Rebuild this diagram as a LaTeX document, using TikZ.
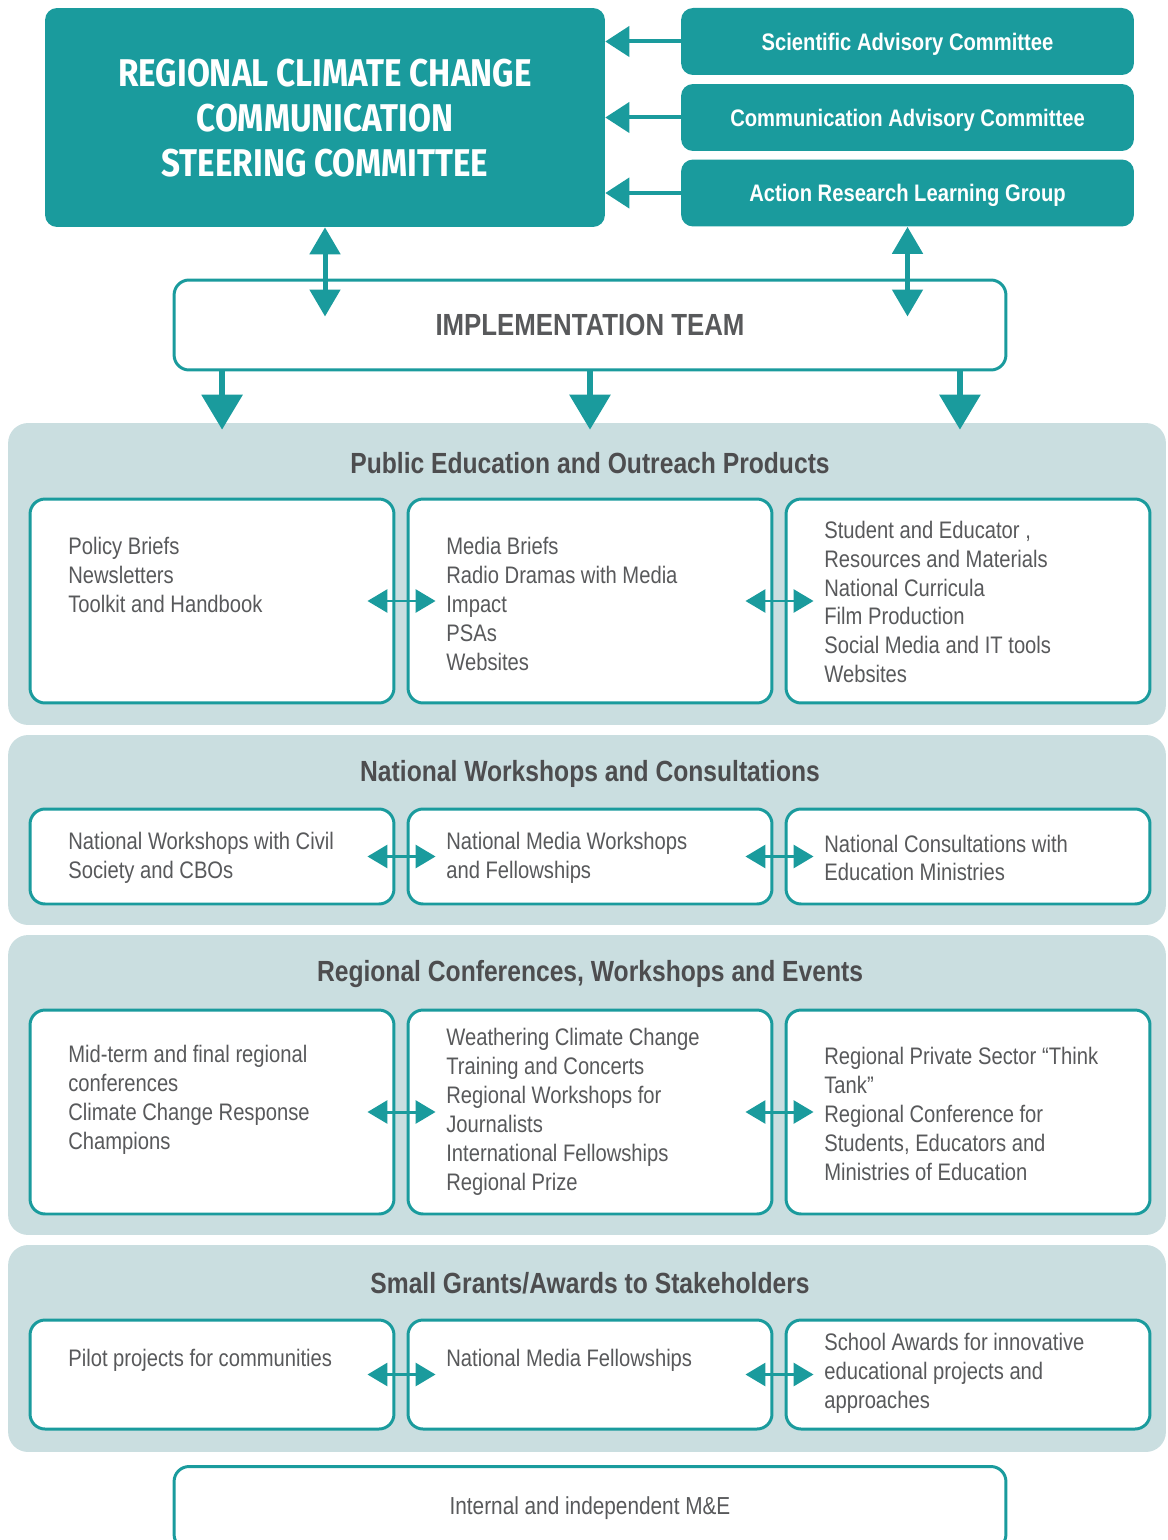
\documentclass[tikz,border=0pt]{standalone}
\usepackage{fontspec}
\setmainfont[FakeStretch=0.845]{Liberation Sans}
\newfontfamily\headfont[FakeStretch=0.86]{Fira Sans}
\usetikzlibrary{arrows.meta,positioning}
\definecolor{rcteal}{HTML}{1A9B9D}
\definecolor{rcpanel}{HTML}{CADEE0}
\definecolor{rcgray}{HTML}{58595B}
\definecolor{rcdark}{HTML}{4D4D4F}
\tikzset{topbox/.style = {fill=rcteal, rounded corners=0.24cm, text=white, align=center, text depth=0pt}}
\tikzset{panel/.style = {fill=rcpanel, rounded corners=0.4cm, minimum width=23.16cm}}
\tikzset{itembox/.style = {draw=rcteal, fill=white, line width=1.7pt, rounded corners=0.3cm, minimum width=7.28cm}}
\tikzset{item/.style = {anchor=west, inner sep=0, align=left, text=rcgray, font=\fontsize{13.6}{16.44}\selectfont}}
\tikzset{ptitle/.style = {inner sep=0, text=rcdark, font=\bfseries\fontsize{16.6}{19}\selectfont}}
\tikzset{dblh/.style = {rcteal, line width=1.7pt, {Triangle[length=0.4cm,width=0.46cm]}-{Triangle[length=0.4cm,width=0.46cm]}}}
\tikzset{dblv/.style = {rcteal, line width=0.1cm, {Triangle[length=0.54cm,width=0.6cm]}-{Triangle[length=0.54cm,width=0.6cm]}}}
\tikzset{downarr/.style = {rcteal, line width=0.12cm, -{Triangle[length=0.7cm,width=0.8cm]}}}
\tikzset{leftarr/.style = {rcteal, line width=0.08cm, -{Triangle[length=0.48cm,width=0.6cm]}}}

\begin{document}
\begin{tikzpicture}[x=0.02cm, y=-0.02cm]
      \useasboundingbox (0,0) rectangle (1167,1540);
      \node [topbox, minimum width=11.2cm, minimum height=4.38cm, font=\headfont\bfseries\fontsize{22}{25.5}\selectfont] (steer) at (325,117.5) {REGIONAL CLIMATE CHANGE\\COMMUNICATION\\STEERING COMMITTEE};
      \node [topbox, minimum width=9.06cm, minimum height=1.34cm, font=\bfseries\fontsize{13.6}{16}\selectfont] (sac) at (907.5,41.5) {Scientific Advisory Committee};
      \node [topbox, minimum width=9.06cm, minimum height=1.34cm, font=\bfseries\fontsize{13.6}{16}\selectfont] (cac) at (907.5,117.5) {Communication Advisory Committee};
      \node [topbox, minimum width=9.06cm, minimum height=1.34cm, font=\bfseries\fontsize{13.6}{16}\selectfont] (arlg) at (907.5,193) {Action Research Learning Group};
      \draw [leftarr] (sac.west) -- (sac.west -| steer.east);
      \draw [leftarr] (cac.west) -- (cac.west -| steer.east);
      \draw [leftarr] (arlg.west) -- (arlg.west -| steer.east);
      \node [itembox, minimum width=16.64cm, minimum height=1.8cm, text=rcgray, font=\bfseries\fontsize{17.4}{20}\selectfont] (impl) at (590,325) {IMPLEMENTATION TEAM};
      \draw [dblv] (steer.south) -- ([yshift=-0.76cm]steer.south |- impl.north);
      \draw [dblv] (arlg.south) -- ([yshift=-0.76cm]arlg.south |- impl.north);
      \node [panel, minimum height=6.04cm] (p1) at (587,574) {};
      \node [panel, minimum height=3.8cm] (p2) at (587,830) {};
      \node [panel, minimum height=6cm] (p3) at (587,1085) {};
      \node [panel, minimum height=4.14cm] (p4) at (587,1348.5) {};
      \draw [downarr] ([xshift=-7.36cm]impl.south) -- ([xshift=-7.36cm,yshift=-0.14cm]impl.south |- p1.north);
      \draw [downarr] (impl.south) -- ([yshift=-0.14cm]impl.south |- p1.north);
      \draw [downarr] ([xshift=7.4cm]impl.south) -- ([xshift=7.4cm,yshift=-0.14cm]impl.south |- p1.north);
      \node [ptitle] (h1) at (590,463) {Public Education and Outreach Products};
      \node [ptitle] (h2) at (590,774) {National Workshops and Consultations};
      \node [ptitle] (h3) at (590,974) {Regional Conferences, Workshops and Events};
      \node [ptitle] (h4) at (590,1283) {Small Grants/Awards to Stakeholders};
      \node [itembox, minimum height=4.08cm] (b11) at (212,601) {};
      \node [itembox, minimum height=4.08cm] (b12) at (590,601) {};
      \node [itembox, minimum height=4.08cm] (b13) at (968,601) {};
      \node [itembox, minimum height=1.9cm] (b21) at (212,856.5) {};
      \node [itembox, minimum height=1.9cm] (b22) at (590,856.5) {};
      \node [itembox, minimum height=1.9cm] (b23) at (968,856.5) {};
      \node [itembox, minimum height=4.08cm] (b31) at (212,1112) {};
      \node [itembox, minimum height=4.08cm] (b32) at (590,1112) {};
      \node [itembox, minimum height=4.08cm] (b33) at (968,1112) {};
      \node [itembox, minimum height=2.18cm] (b41) at (212,1374.5) {};
      \node [itembox, minimum height=2.18cm] (b42) at (590,1374.5) {};
      \node [itembox, minimum height=2.18cm] (b43) at (968,1374.5) {};
      \foreach \r in {1,2,3,4} {
        \draw [dblh] ([xshift=-0.56cm]b\r1.east) -- ([xshift=0.58cm]b\r2.west);
        \draw [dblh] ([xshift=-0.56cm]b\r2.east) -- ([xshift=0.58cm]b\r3.west);
      }
      \node [item] (t11) at (68,575) {Policy Briefs\\Newsletters\\Toolkit and Handbook};
      \node [item] (t12) at (446,604) {Media Briefs\\Radio Dramas with Media\\Impact\\PSAs\\Websites};
      \node [item] (t13) at (824,602) {Student and Educator ,\\Resources and Materials\\National Curricula\\Film Production\\Social Media and IT tools\\Websites};
      \node [item] (t21) at (68,858) {National Workshops with Civil\\Society and CBOs};
      \node [item] (t22) at (446,858) {National Media Workshops\\and Fellowships};
      \node [item] (t23) at (824,858) {National Consultations with\\Education Ministries};
      \node [item] (t31) at (68,1100) {Mid-term and final regional\\conferences\\Climate Change Response\\Champions};
      \node [item] (t32) at (446,1112) {Weathering Climate Change\\Training and Concerts\\Regional Workshops for\\Journalists\\International Fellowships\\Regional Prize};
      \node [item] (t33) at (824,1114) {Regional Private Sector “Think\\Tank”\\Regional Conference for\\Students, Educators and\\Ministries of Education};
      \node [item] (t41) at (68,1360) {Pilot projects for communities};
      \node [item] (t42) at (446,1360) {National Media Fellowships};
      \node [item] (t43) at (824,1373) {School Awards for innovative\\educational projects and\\approaches};
      \node [itembox, minimum width=16.64cm, minimum height=1.66cm, text=rcgray, font=\fontsize{14}{16}\selectfont] (me) at (590,1508) {Internal and independent M\&E};
    \end{tikzpicture}
\end{document}
